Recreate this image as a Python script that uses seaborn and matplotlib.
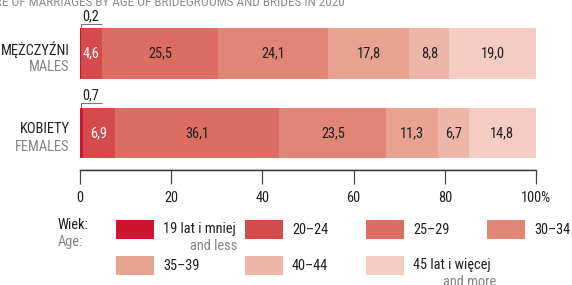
import numpy as np
import pandas as pd
import seaborn as sns
import matplotlib.pyplot as plt
from matplotlib import font_manager
from matplotlib.patches import Rectangle

# values in % (share of marriages by age group)
groups = ["19 lat i mniej", "20–24", "25–29", "30–34", "35–39", "40–44", "45 lat i więcej"]
groups_en = ["and less", "", "", "", "", "", "and more"]
males = [0.2, 4.6, 25.5, 24.1, 17.8, 8.8, 19.0]
females = [0.7, 6.9, 36.1, 23.5, 11.3, 6.7, 14.8]
categories = ["MĘŻCZYŹNI", "KOBIETY"]
categories_en = ["MALES", "FEMALES"]
colors = ["#CF1431", "#D54B4B", "#DC6D62", "#E18576", "#E8A292", "#EEB6A8", "#F3CDC2"]
xticks = [0, 20, 40, 60, 80, 100]
title = "STRUCTURE OF MARRIAGES BY AGE OF BRIDEGROOMS AND BRIDES IN 2020"

DARK = "#231F20"
GREY = "#858585"
W, H = 572, 285

sns.set_theme(style="white")

# pick a narrow family if one is there, otherwise a normal one a bit smaller
FS = 9.0
family = "Roboto"
for name in ["Roboto Condensed", "Open Sans Condensed", "Liberation Sans Narrow",
             "Arial Narrow", "PT Sans Narrow", "Archivo Narrow"]:
    try:
        font_manager.findfont(font_manager.FontProperties(family=name),
                              fallback_to_default=False)
        family, FS = name, 10.4
        break
    except ValueError:
        pass
plt.rcParams["font.family"] = [family, "DejaVu Sans"]
plt.rcParams["font.size"] = FS


def fx(px):
    return px / W


def fy(py):
    return 1 - py / H


df = pd.DataFrame({"group": groups, categories[0]: males, categories[1]: females})
long = df.melt(id_vars="group", var_name="sex", value_name="share")
long["group"] = pd.Categorical(long["group"], groups)
long = long.sort_values(["sex", "group"])
long["cum"] = long.groupby("sex", sort=False)["share"].cumsum()
long["left"] = long["cum"] - long["share"]

fig = plt.figure(figsize=(W / 100, H / 100), dpi=100)
ax = fig.add_axes([fx(80), fy(170), fx(456), 150 / H])

bar_h = 0.64
# draw cumulative bars from the widest to the narrowest (stacked look)
for g, col in reversed(list(zip(groups, colors))):
    sub = long[long["group"] == g]
    sns.barplot(data=sub, x="cum", y="sex", order=categories, orient="h",
                color=col, saturation=1, width=bar_h, ax=ax, linewidth=0)

ax.set_xlim(0, 100)
ax.set_ylim(1.466, -0.421)
ax.set_xlabel("")
ax.set_ylabel("")
ax.set_yticks([])
ax.set_xticks(xticks)
ax.set_xticklabels([f"{t}%" if t == 100 else str(t) for t in xticks])
ax.tick_params(axis="x", direction="out", length=10, width=0.9, color="#444444",
               pad=5, labelsize=FS, labelcolor=DARK, bottom=True)
for s in ["top", "right", "left"]:
    ax.spines[s].set_visible(False)
ax.spines["bottom"].set_color("#333333")
ax.spines["bottom"].set_linewidth(1)
ax.axhline(1.466 - 0.012, color="#DDDDDD", lw=1)

# value labels
for _, r in long.iterrows():
    i = categories.index(r["sex"])
    gi = groups.index(r["group"])
    if r["share"] < 1:
        continue
    c = "white" if gi <= 1 else DARK
    ax.text(r["left"] + r["share"] / 2, i, f"{r['share']:.1f}".replace(".", ","),
            ha="center", va="center", color=c, fontsize=FS)

# small values with brackets above bars
for i, v in enumerate([males[0], females[0]]):
    top = i - bar_h / 2
    yb = top - 0.055
    ax.plot([0.2, 0.2, 4.8], [top, yb, yb], color="#777777", lw=0.8,
            clip_on=False, solid_capstyle="butt")
    ax.text(0.4, yb - 0.005, f"{v:.1f}".replace(".", ","), ha="left",
            va="bottom", color=DARK, fontsize=FS)

# category labels
for i, (pl, en) in enumerate(zip(categories, categories_en)):
    ax.annotate(pl, xy=(0, i), xycoords=("axes fraction", "data"),
                xytext=(-7.5, 3), textcoords="offset points", ha="right",
                va="center", color=DARK, fontsize=FS)
    ax.annotate(en, xy=(0, i), xycoords=("axes fraction", "data"),
                xytext=(-7.5, -10), textcoords="offset points", ha="right",
                va="center", color=GREY, fontsize=FS)

# cut-off title at the very top
fig.text(fx(345), fy(5.5), title, ha="right", va="baseline", color="#8C8C8C",
         fontsize=9.5)

# legend
fig.text(fx(58), fy(229), "Wiek:", ha="left", va="baseline", color=DARK, fontsize=FS)
fig.text(fx(58), fy(246), "Age:", ha="left", va="baseline", color=GREY, fontsize=FS)
col_x = [116, 245, 366, 487]
row_y = [220, 256]
for k, (g, en, col) in enumerate(zip(groups, groups_en, colors)):
    r, c = divmod(k, 4)
    x0, y0 = col_x[c], row_y[r]
    fig.add_artist(Rectangle((fx(x0), fy(y0 + 19)), 38 / W, 19 / H,
                             transform=fig.transFigure, color=col, lw=0))
    fig.text(fx(x0 + 47), fy(y0 + 9.5), g, ha="left", va="center",
             color=DARK, fontsize=FS)
    if en:
        fig.text(fx(x0 + 121 if c == 0 else x0 + 130), fy(y0 + 26), en,
                 ha="right", va="center", color=GREY, fontsize=FS)

fig.savefig("out.png", dpi=100)
